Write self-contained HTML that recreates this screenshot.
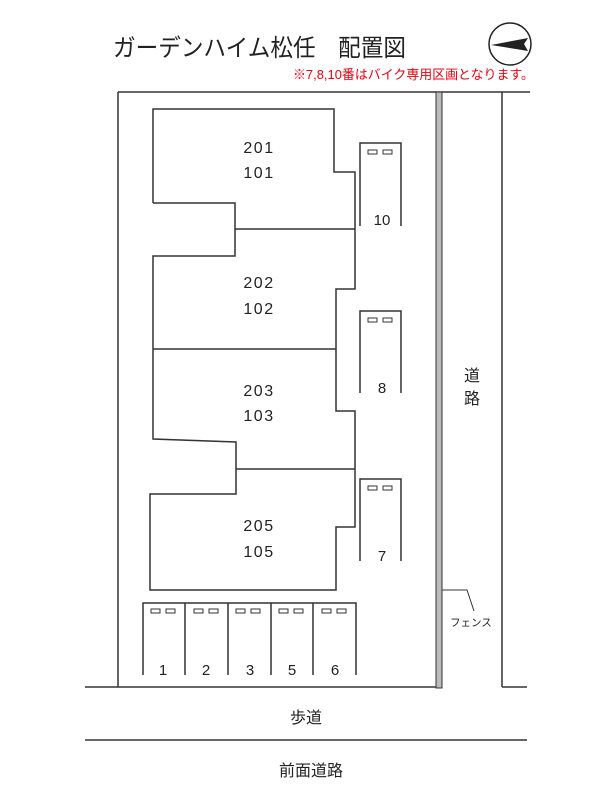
<!DOCTYPE html>
<html><head><meta charset="utf-8"><style>
body{margin:0;background:#fff;}
svg{display:block;}
text{font-family:"Liberation Sans","Noto Sans CJK JP",sans-serif;}
</style></head><body>
<svg width="600" height="800" viewBox="0 0 600 800" xmlns="http://www.w3.org/2000/svg">
<rect width="600" height="800" fill="#fff"/>
<text x="113" y="56" font-size="24" fill="#222" textLength="293" lengthAdjust="spacingAndGlyphs">ガーデンハイム松任　配置図</text>
<text x="293" y="79" font-size="13" fill="#e60012" textLength="241" lengthAdjust="spacingAndGlyphs">※7,8,10番はバイク専用区画となります。</text>
<circle cx="510" cy="44" r="21" fill="none" stroke="#222" stroke-width="1.5"/>
<polygon points="491,45 528,38 524,44 528,51" fill="#222"/>
<g stroke="#333" stroke-width="1.5" fill="none">
<line x1="118" y1="92" x2="530" y2="92"/>
<line x1="118" y1="92" x2="118" y2="687"/>
<line x1="502" y1="92" x2="502" y2="687"/>
<line x1="85" y1="687" x2="437" y2="687"/>
<line x1="502" y1="687" x2="527" y2="687"/>
<line x1="85" y1="740" x2="527" y2="740"/>
<polyline points="153,203 153,109 334,109 334,172 355,172 355,289 336,289 336,411 355,411 355,527 336,527 336,590 150,590 150,494 236,494 236,442 153,439 153,256 235,256 235,203 153,203"/>
<line x1="235" y1="229" x2="355" y2="229"/>
<line x1="153" y1="349" x2="336" y2="349"/>
<line x1="236" y1="469" x2="355" y2="469"/>
<polyline points="360,226 360,143 401,143 401,226"/>
<polyline points="360,393 360,311 401,311 401,393"/>
<polyline points="360,561 360,479 401,479 401,561"/>
<polyline points="143,675 143,603 356,603 356,675"/>
<line x1="185" y1="603" x2="185" y2="675"/>
<line x1="228" y1="603" x2="228" y2="675"/>
<line x1="271" y1="603" x2="271" y2="675"/>
<line x1="313" y1="603" x2="313" y2="675"/>
<polyline stroke-width="1" points="442,590 467,590 474,611"/>
</g>
<rect x="436" y="92" width="6" height="596" fill="#bbb" stroke="#333" stroke-width="1"/>
<g fill="none" stroke="#333" stroke-width="1">
<rect x="368" y="150" width="9" height="4"/><rect x="383" y="150" width="9" height="4"/>
<rect x="368" y="318" width="9" height="4"/><rect x="383" y="318" width="9" height="4"/>
<rect x="368" y="486" width="9" height="4"/><rect x="383" y="486" width="9" height="4"/>
<rect x="151" y="609" width="9" height="4"/><rect x="166" y="609" width="9" height="4"/>
<rect x="194" y="609" width="9" height="4"/><rect x="209" y="609" width="9" height="4"/>
<rect x="236" y="609" width="9" height="4"/><rect x="251" y="609" width="9" height="4"/>
<rect x="279" y="609" width="9" height="4"/><rect x="294" y="609" width="9" height="4"/>
<rect x="322" y="609" width="9" height="4"/><rect x="337" y="609" width="9" height="4"/>
</g>
<g font-size="16" fill="#222" text-anchor="middle" letter-spacing="1.5">
<text x="259" y="153">201</text><text x="259" y="178">101</text>
<text x="259" y="288">202</text><text x="259" y="314">102</text>
<text x="259" y="396">203</text><text x="259" y="421">103</text>
<text x="259" y="531">205</text><text x="259" y="557">105</text>
</g>
<g font-size="15" fill="#222" text-anchor="middle">
<text x="382" y="225">10</text><text x="382" y="393">8</text><text x="382" y="561">7</text>
<text x="163" y="675">1</text><text x="206" y="675">2</text><text x="250" y="675">3</text><text x="292" y="675">5</text><text x="335" y="675">6</text>
</g>
<g font-size="16" fill="#222" text-anchor="middle">
<text x="472" y="381">道</text><text x="472" y="404">路</text>
<text x="306" y="723">歩道</text>
<text x="311" y="776">前面道路</text>
</g>
<text x="450" y="626" font-size="10.5" fill="#222">フェンス</text>
</svg>
</body></html>
